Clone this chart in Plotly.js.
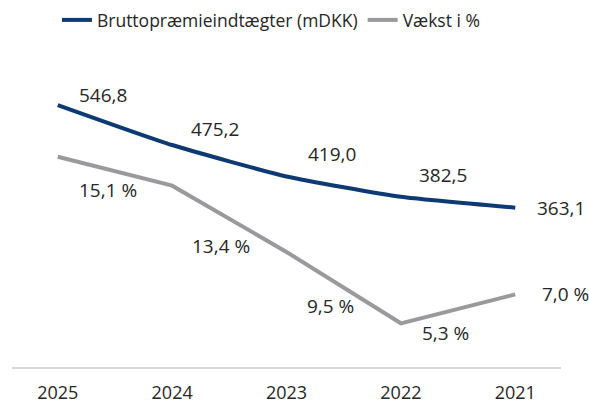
<!DOCTYPE html>
<html>
<head>
<meta charset="utf-8">
<script src="https://cdn.plot.ly/plotly-3.0.1.min.js"></script>
<style>html,body{margin:0;padding:0;background:#fff;}#chart{width:589px;height:405px;}</style>
</head>
<body>
<div id="chart"></div>
<script>
const years = ["2025", "2024", "2023", "2022", "2021"];
const premiums = [546.8, 475.2, 419.0, 382.5, 363.1];
const growth = [15.1, 13.4, 9.5, 5.3, 7.0];
const premiumName = "Bruttopræmieindtægter (mDKK)";
const growthName = "Vækst i %";

// label offsets in pixels (style only)
const premOffsets = [[45, 10], [43, 16], [45, 22], [42, 22], [46, 0]];
const growthOffsets = [[50, -33], [49, -60], [44, -54], [45, -10], [50, 0]];

const fmt = v => v.toFixed(1).replace('.', ',');
const FONT = "'Open Sans', sans-serif";
const TXT = "#262626";

const annotations = [];
years.forEach((yr, i) => {
  annotations.push({
    x: i, y: premiums[i], xref: 'x', yref: 'y',
    text: fmt(premiums[i]), showarrow: false,
    xshift: premOffsets[i][0], yshift: premOffsets[i][1],
    font: {family: FONT, size: 19, color: TXT}
  });
  annotations.push({
    x: i, y: growth[i], xref: 'x', yref: 'y2',
    text: fmt(growth[i]) + ' %', showarrow: false,
    xshift: growthOffsets[i][0], yshift: growthOffsets[i][1],
    font: {family: FONT, size: 19, color: TXT}
  });
});

const data = [
  {
    x: years.map((_, i) => i), y: premiums, name: premiumName,
    type: 'scatter', mode: 'lines', yaxis: 'y',
    line: {color: '#0e3a73', width: 4, shape: 'spline', smoothing: 0.5},
    hoverinfo: 'skip'
  },
  {
    x: years.map((_, i) => i), y: growth, name: growthName,
    type: 'scatter', mode: 'lines', yaxis: 'y2',
    line: {color: '#9a9a9c', width: 4},
    hoverinfo: 'skip'
  }
];

const layout = {
  width: 589, height: 405,
  margin: {l: 12, r: 28, t: 40, b: 38},
  paper_bgcolor: '#fff', plot_bgcolor: '#fff',
  font: {family: FONT, size: 18, color: TXT},
  showlegend: true,
  legend: {orientation: 'h', x: 0.46, xanchor: 'center', xref: 'container',
           y: 0.995, yanchor: 'top', yref: 'container',
           font: {family: FONT, size: 17.5, color: TXT}, traceorder: 'normal'},
  xaxis: {
    range: [-0.4, 4.4], tickmode: 'array', tickvals: years.map((_, i) => i), ticktext: years,
    showgrid: false, zeroline: false, showline: true, linecolor: '#d9d9d9', linewidth: 2,
    ticks: '', tickfont: {family: FONT, size: 18, color: TXT}, ticklabelstandoff: 8
  },
  yaxis: {range: [78.1, 663.1], visible: false, showgrid: false, zeroline: false},
  yaxis2: {range: [2.73, 21.97], overlaying: 'y', side: 'right', visible: false, showgrid: false, zeroline: false},
  annotations: annotations
};

Plotly.newPlot('chart', data, layout, {displayModeBar: false, staticPlot: true});
</script>
</body>
</html>
